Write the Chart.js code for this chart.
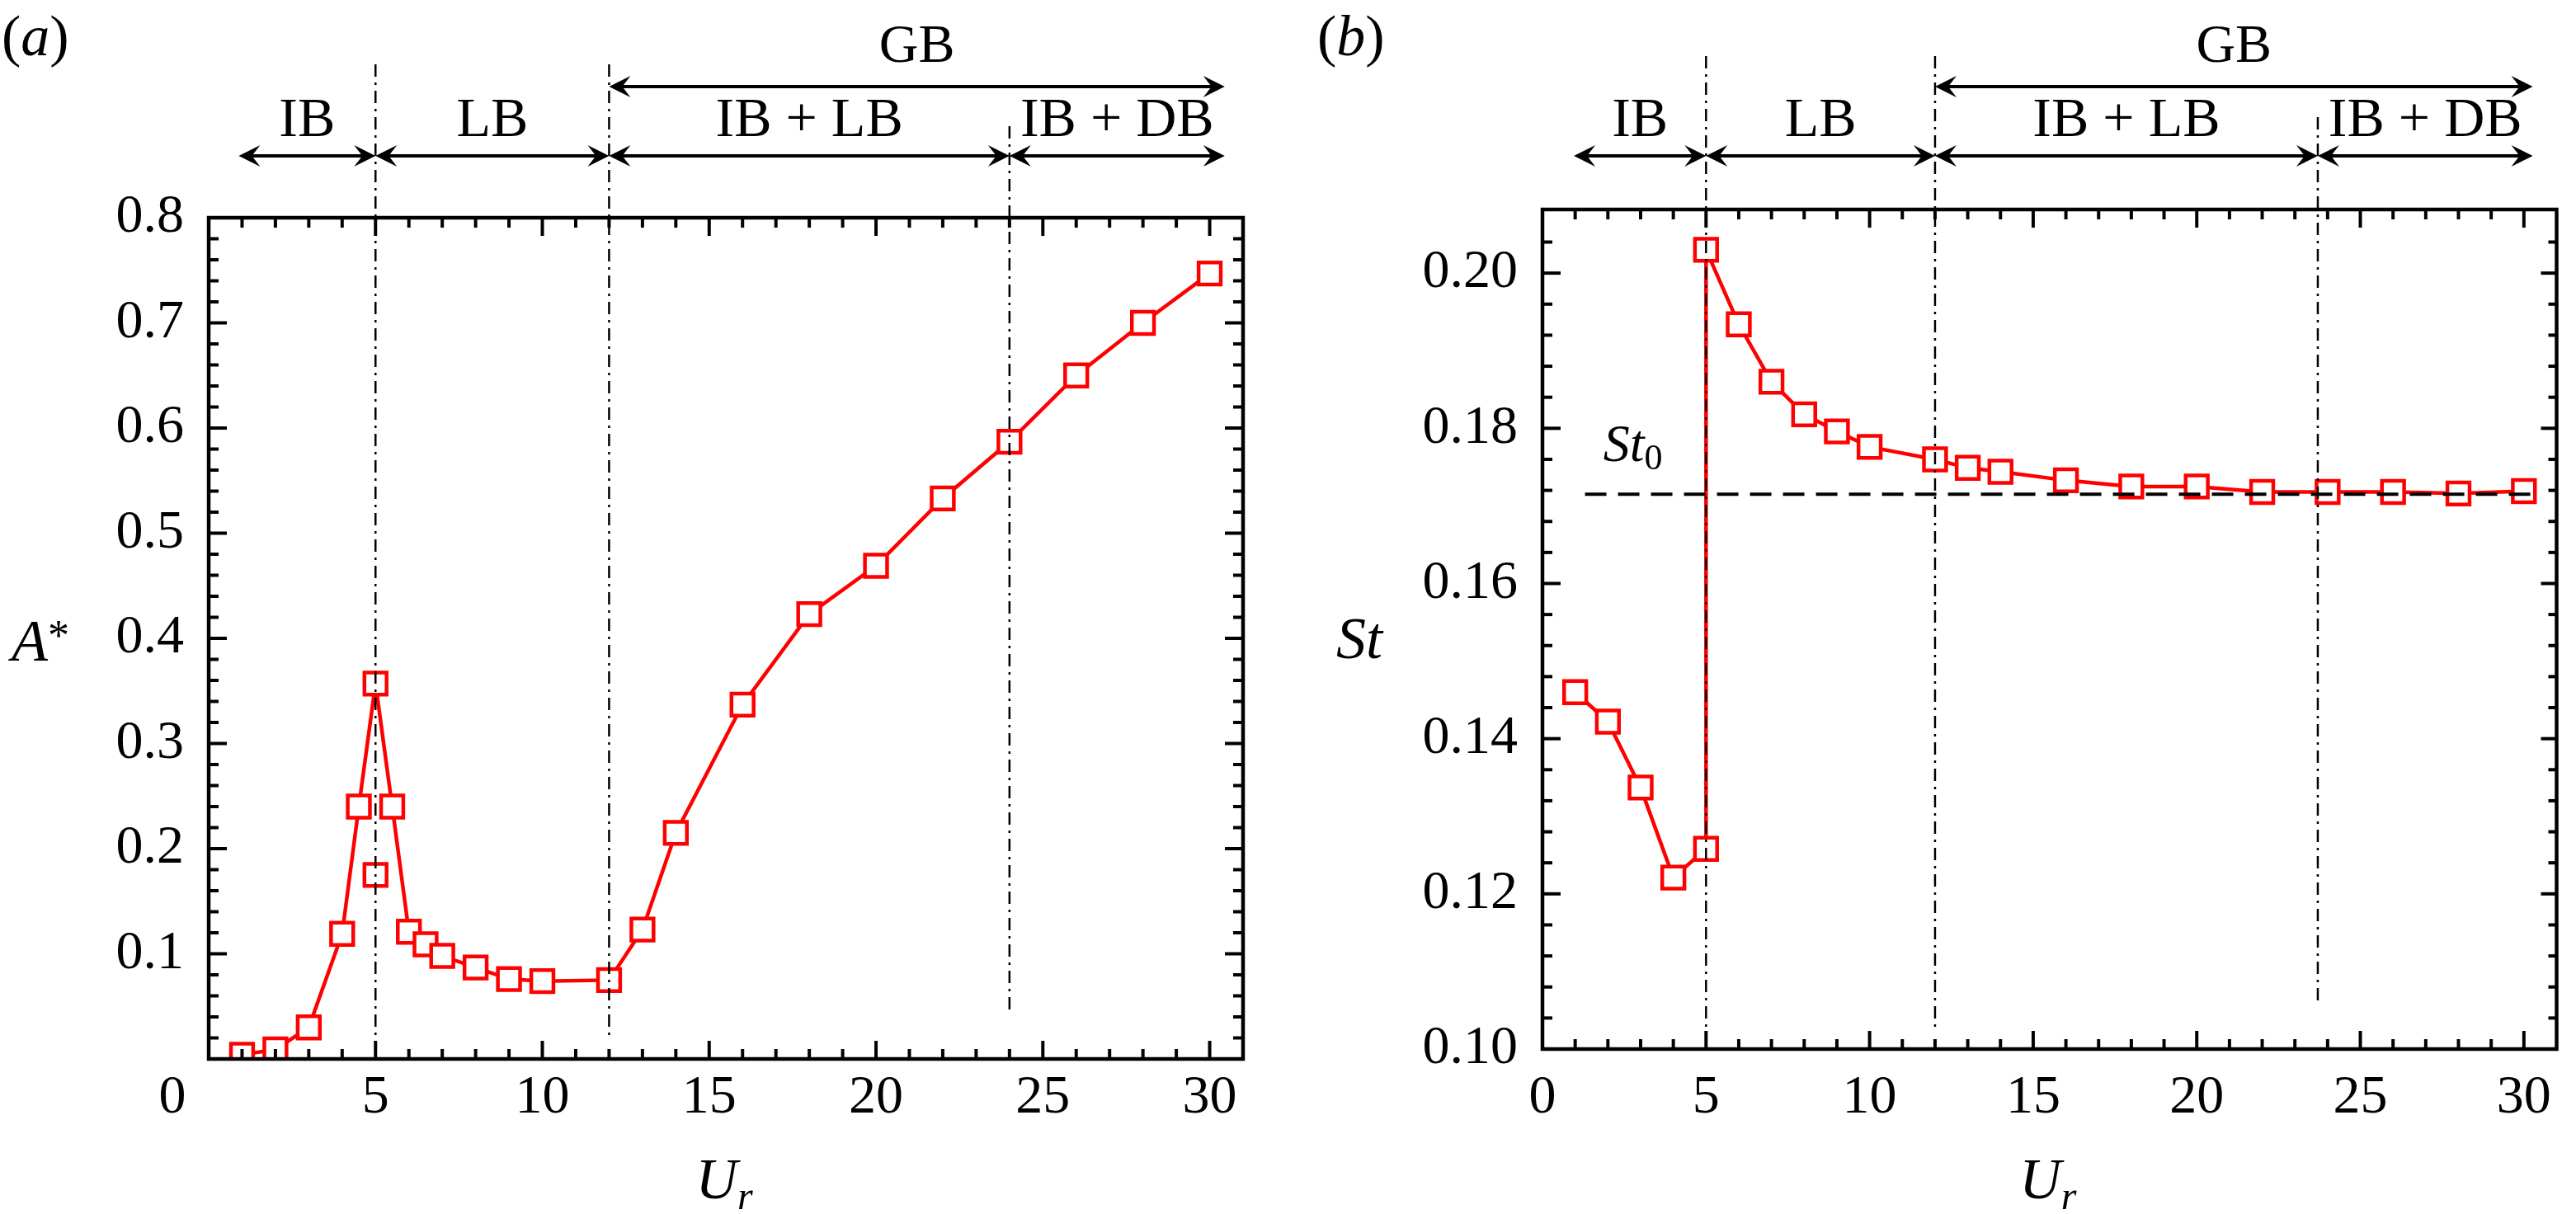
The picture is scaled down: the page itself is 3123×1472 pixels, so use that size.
<!DOCTYPE html>
<html>
<head>
<meta charset="utf-8">
<script src="https://cdn.jsdelivr.net/npm/chart.js@4.4.1/dist/chart.umd.min.js"></script>
<style>
  html, body { margin: 0; padding: 0; background: #fff; }
  #wrap { position: relative; width: 3123px; height: 1472px; background: #fff; }
  canvas { position: absolute; top: 0; }
</style>
</head>
<body>
<div id="wrap">
  <canvas id="chartA" width="1561" height="1472" style="left:0"></canvas>
  <canvas id="chartB" width="1562" height="1472" style="left:1561px"></canvas>
</div>
<script>
const SERIF = '"Liberation Serif", "Times New Roman", serif';

// (a) amplitude A* against reduced velocity Ur
const urA = [1, 2, 3, 4, 4.5, 5, 5.5, 6, 6.5, 7, 8, 9, 10, 12, 13, 14, 16, 18, 20, 22, 24, 26, 28, 30];
const ampA = [0.004, 0.009, 0.030, 0.119, 0.240, 0.357, 0.240, 0.121, 0.109, 0.098, 0.087, 0.076, 0.074,
              0.075, 0.123, 0.215, 0.337, 0.423, 0.469, 0.533, 0.587, 0.650, 0.700, 0.747];
// lower branch at Ur = 5 (not joined by the line)
const urAlt = [5];
const ampAlt = [0.175];

// (b) Strouhal number St against Ur
const urB = [1, 2, 3, 4, 5, 5, 6, 7, 8, 9, 10, 12, 13, 14, 16, 18, 20, 22, 24, 26, 28, 30];
const stB = [0.146, 0.1422, 0.1337, 0.1221, 0.1258, 0.203, 0.1934, 0.186, 0.1818, 0.1796, 0.1776,
             0.176, 0.1749, 0.1744, 0.1733, 0.1725, 0.1725, 0.1718, 0.1718, 0.1718, 0.1716, 0.1719];
// stationary cylinder reference St0
const st0 = 0.1715;
const st0Span = [1.3, 30.2];

// axes
const xTickValues = [0, 5, 10, 15, 20, 25, 30];
const yTickValuesA = [0.1, 0.2, 0.3, 0.4, 0.5, 0.6, 0.7, 0.8];
const yTickValuesB = [0.10, 0.12, 0.14, 0.16, 0.18, 0.20];

// regimes shown above each panel
const regimeNames = ['IB', 'LB', 'IB + LB', 'IB + DB'];
const regimeEdgesA = [0.9, 5, 12, 24, 30.45];
const regimeEdgesB = [0.96, 5, 12, 23.7, 30.27];
const boundaryLinesA = [5, 12, 24];
const boundaryLinesB = [5, 12, 23.7];

function line(ctx, x1, y1, x2, y2) {
  ctx.beginPath();
  ctx.moveTo(x1, y1);
  ctx.lineTo(x2, y2);
  ctx.stroke();
}

function arrowHead(ctx, x, y, dir) {
  ctx.beginPath();
  ctx.moveTo(x, y);
  ctx.lineTo(x - dir * 26, y - 13);
  ctx.lineTo(x - dir * 16, y);
  ctx.lineTo(x - dir * 26, y + 13);
  ctx.closePath();
  ctx.fill();
}

function doubleArrow(ctx, x1, x2, y) {
  line(ctx, x1 + 12, y, x2 - 12, y);
  arrowHead(ctx, x1, y, -1);
  arrowHead(ctx, x2, y, 1);
}

// draw a list of text runs starting at x on a baseline
function drawRuns(ctx, runs, x, y, align) {
  let w = 0;
  runs.forEach(r => { ctx.font = r.font; w += ctx.measureText(r.t).width; });
  let cx = align === 'center' ? x - w / 2 : x;
  ctx.textAlign = 'left';
  ctx.textBaseline = 'alphabetic';
  runs.forEach(r => {
    ctx.font = r.font;
    ctx.fillText(r.t, cx, y + (r.dy || 0));
    cx += ctx.measureText(r.t).width;
  });
}

function makeRegimePlugin(p) {
  return {
    id: 'regimes',
    afterDraw(chart) {
      const { ctx, chartArea: a } = chart;
      const x = chart.scales.x, y = chart.scales.y;
      ctx.save();
      ctx.strokeStyle = '#000';
      ctx.fillStyle = '#000';

      // frame with inward ticks
      ctx.lineWidth = 4;
      for (let v = 1; v < x.max; v++) {
        const px = x.getPixelForValue(v);
        if (px > a.right - 3) continue;
        const len = v % 5 === 0 ? 22 : 12;
        line(ctx, px, a.bottom, px, a.bottom - len);
        line(ctx, px, a.top, px, a.top + len);
      }
      const n = Math.floor((y.max - y.min) / p.yMinor + 1e-6);
      for (let k = 1; k <= n; k++) {
        const py = y.getPixelForValue(y.min + k * p.yMinor);
        if (py < a.top + 3) continue;
        const major = k % 5 === 0;
        line(ctx, a.left, py, a.left + (major ? 22 : 12), py);
        line(ctx, a.right, py, a.right - (major ? p.rightMajor : p.rightMinor), py);
      }
      ctx.lineWidth = 4.5;
      ctx.strokeRect(a.left, a.top, a.right - a.left, a.bottom - a.top);

      // dash-dot regime boundaries
      ctx.lineWidth = 2.5;
      ctx.setLineDash([15, 7, 3, 7]);
      p.bounds.forEach((u, i) => {
        const px = x.getPixelForValue(u);
        const last = i === p.bounds.length - 1;
        line(ctx, px, last ? p.lineTopLast : p.lineTop, px, a.bottom - (last ? 53 : 27));
      });
      ctx.setLineDash([]);

      // regime arrows and labels
      ctx.lineWidth = 4;
      const reg = `68px ${SERIF}`;
      for (let i = 0; i < p.edges.length - 1; i++) {
        const x1 = x.getPixelForValue(p.edges[i]);
        const x2 = x.getPixelForValue(p.edges[i + 1]);
        doubleArrow(ctx, x1, x2, 189);
        drawRuns(ctx, [{ t: regimeNames[i], font: reg }], (x1 + x2) / 2, 165, 'center');
      }
      const g1 = x.getPixelForValue(p.edges[2]);
      const g2 = x.getPixelForValue(p.edges[p.edges.length - 1]);
      doubleArrow(ctx, g1, g2, 105);
      drawRuns(ctx, [{ t: 'GB', font: `66px ${SERIF}` }], (g1 + g2) / 2, 75, 'center');

      // panel tag
      const tagUp = `70px ${SERIF}`, tagIt = `italic 70px ${SERIF}`;
      drawRuns(ctx, [{ t: '(', font: tagUp }, { t: p.tag, font: tagIt }, { t: ')', font: tagUp }], p.tagX, 67);

      // axis titles
      const cx = (a.left + a.right) / 2;
      drawRuns(ctx, [{ t: 'U', font: `italic 70px ${SERIF}` }, { t: 'r', font: `italic 48px ${SERIF}`, dy: 13 }], cx - 2, 1453, 'center');
      p.yTitle(ctx);

      if (p.zeroLabel) {
        ctx.font = `66px ${SERIF}`;
        ctx.textAlign = 'center';
        ctx.textBaseline = 'middle';
        ctx.fillText('0', x.getPixelForValue(0) - 44, a.bottom + p.xLabelPad + 39.6);
      }
      if (p.extra) p.extra(ctx, x, y);
      ctx.restore();
    }
  };
}

function makeChart(id, p) {
  return new Chart(document.getElementById(id), {
    type: 'line',
    data: { datasets: p.datasets },
    options: {
      responsive: false,
      devicePixelRatio: 1,
      animation: false,
      layout: { padding: { top: p.padTop, right: p.padRight, left: 0, bottom: 0 } },
      plugins: { legend: { display: false }, tooltip: { enabled: false } },
      elements: { line: { tension: 0 } },
      scales: {
        x: {
          type: 'linear', min: 0, max: 31,
          grid: { display: false, drawTicks: false },
          border: { display: false },
          afterBuildTicks: s => { s.ticks = xTickValues.map(v => ({ value: v })); },
          afterFit: s => { s.height = p.xHeight; },
          ticks: {
            padding: p.xLabelPad, color: '#000', maxRotation: 0, autoSkip: false,
            font: { family: SERIF, size: 66 },
            callback: v => (p.zeroLabel && v === 0) ? '' : String(v)
          }
        },
        y: {
          type: 'linear', min: p.yMin, max: p.yMax,
          grid: { display: false, drawTicks: false },
          border: { display: false },
          afterBuildTicks: s => { s.ticks = p.yTicks.map(v => ({ value: v })); },
          afterFit: s => { s.width = p.yWidth; },
          ticks: {
            padding: 30, color: '#000', autoSkip: false,
            font: { family: SERIF, size: 66 },
            callback: v => v.toFixed(p.yDigits)
          }
        }
      }
    },
    plugins: [makeRegimePlugin(p)]
  });
}

const redSeries = {
  borderColor: '#ff0000', borderWidth: 4.5,
  pointStyle: 'rect', pointRadius: 19, pointBorderWidth: 4.5,
  pointBorderColor: '#ff0000', pointBackgroundColor: '#ffffff',
  fill: false
};

makeChart('chartA', {
  datasets: [
    Object.assign({ data: urA.map((u, i) => ({ x: u, y: ampA[i] })) }, redSeries),
    Object.assign({ data: urAlt.map((u, i) => ({ x: u, y: ampAlt[i] })), showLine: false }, redSeries)
  ],
  padTop: 264, padRight: 54, yWidth: 253, xHeight: 188, xLabelPad: 8,
  yMin: 0, yMax: 0.8, yTicks: yTickValuesA, yDigits: 1, yMinor: 0.02,
  rightMajor: 22, rightMinor: 12,
  bounds: boundaryLinesA, edges: regimeEdgesA, lineTop: 78, lineTopLast: 153,
  tag: 'a', tagX: 2, zeroLabel: true,
  yTitle: ctx => drawRuns(ctx, [{ t: 'A', font: `italic 72px ${SERIF}` },
                                { t: '*', font: `52px ${SERIF}`, dy: -13 }], 14, 801)
});

makeChart('chartB', {
  datasets: [
    { data: st0Span.map(u => ({ x: u, y: st0 })), borderColor: '#000', borderWidth: 4,
      borderDash: [26, 14], pointRadius: 0, fill: false },
    Object.assign({ data: urB.map((u, i) => ({ x: u, y: stB[i] })) }, redSeries)
  ],
  padTop: 254, padRight: 3, yWidth: 309, xHeight: 200, xLabelPad: 20,
  yMin: 0.1, yMax: 0.2082, yTicks: yTickValuesB, yDigits: 2, yMinor: 0.004,
  rightMajor: 19, rightMinor: 10,
  bounds: boundaryLinesB, edges: regimeEdgesB, lineTop: 68, lineTopLast: 142,
  tag: 'b', tagX: 36, zeroLabel: false,
  yTitle: ctx => drawRuns(ctx, [{ t: 'St', font: `italic 72px ${SERIF}` }], 59, 798),
  extra: (ctx, x, y) => drawRuns(ctx, [{ t: 'St', font: `italic 64px ${SERIF}` },
                                       { t: '0', font: `44px ${SERIF}`, dy: 10 }],
                                 x.getPixelForValue(1.86), y.getPixelForValue(st0) - 40)
});
</script>
</body>
</html>
